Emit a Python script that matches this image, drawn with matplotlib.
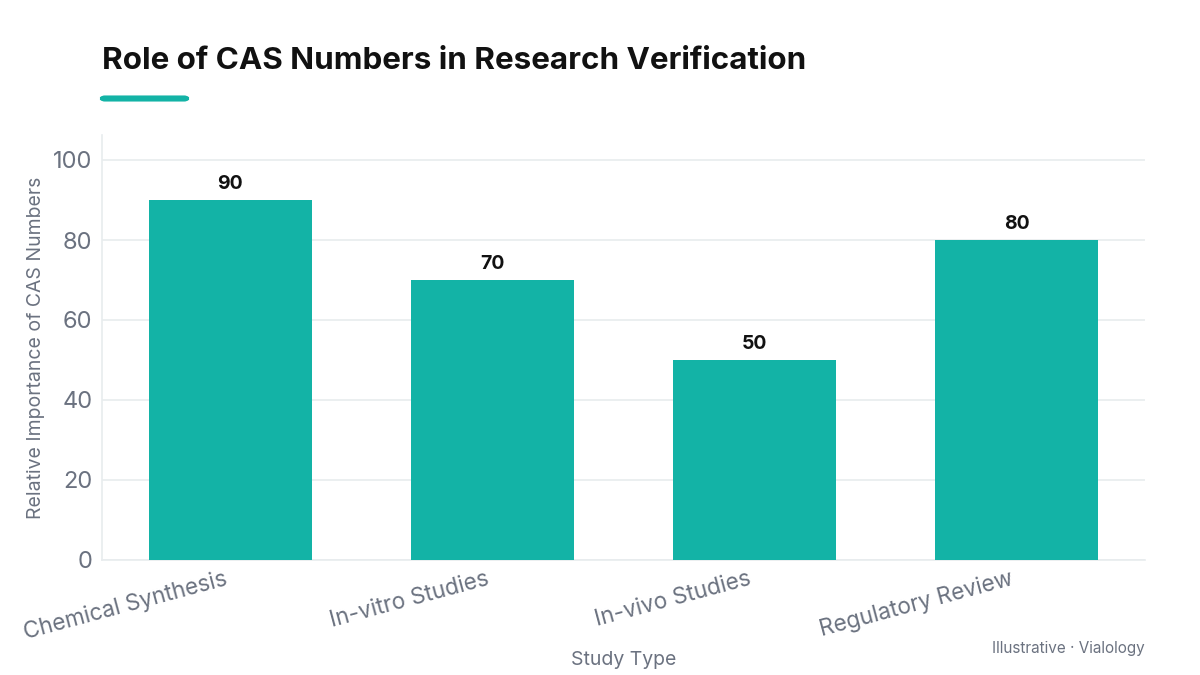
import matplotlib
matplotlib.use("Agg")
import matplotlib.pyplot as plt
import matplotlib.transforms as mtransforms
from matplotlib.patches import FancyBboxPatch

categories = ["Chemical Synthesis", "In-vitro Studies", "In-vivo Studies", "Regulatory Review"]
values = [90, 70, 50, 80]
yticks = [0, 20, 40, 60, 80, 100]

TEAL = "#13B3A6"
GRAY = "#6B7280"
GRID = "#E8ECEE"

plt.rcParams['font.family'] = ['Inter', 'DejaVu Sans']

fig = plt.figure(figsize=(12, 6.75), dpi=100)
W, H = 1200, 675
ax = fig.add_axes([102 / W, 1 - 560 / H, (1145 - 102) / W, (560 - 135) / H])

x = list(range(len(categories)))
bars = ax.bar(x, values, width=0.62, color=TEAL, zorder=3)
for xi, v in zip(x, values):
    ax.annotate(f"{v}", (xi, v), xytext=(0, 5), textcoords="offset points",
                ha="center", va="bottom", fontsize=14, fontweight="bold", color="#111111")

ax.set_xlim(-0.49, 3.49)
ax.set_ylim(0, 106.25)
ax.set_yticks(yticks)
ax.set_yticklabels([str(t) for t in yticks], fontsize=17, color=GRAY)
ax.set_xticks(x)
ax.set_xticklabels([])
lab_tr = ax.get_xaxis_transform() + mtransforms.ScaledTranslation(-7 / 100, -8 / 100, fig.dpi_scale_trans)
for xi, c in zip(x, categories):
    ax.text(xi, 0, c, transform=lab_tr, rotation=15, ha="right", va="top",
            rotation_mode="anchor", fontsize=16.3, color=GRAY, clip_on=False)
ax.tick_params(axis="both", length=0)
ax.tick_params(axis="y", pad=7)
ax.grid(axis="y", color=GRID, linewidth=1.2, zorder=0)
for s in ["top", "right"]:
    ax.spines[s].set_visible(False)
for s in ["left", "bottom"]:
    ax.spines[s].set_color(GRID)
    ax.spines[s].set_linewidth(1.2)

ax.set_ylabel("Relative Importance of CAS Numbers", fontsize=14, color=GRAY, labelpad=6)
fig.text(624 / W, 1 - 660 / H, "Study Type", fontsize=14, color=GRAY, ha="center", va="center")

fig.text(102 / W, 1 - 61 / H, "Role of CAS Numbers in Research Verification",
         fontsize=22.6, fontweight="bold", color="#111111", ha="left", va="center")
accent = FancyBboxPatch((101 / W, 1 - 100.5 / H), 87 / W, 4 / H,
                        boxstyle="round,pad=0,rounding_size=0.003",
                        transform=fig.transFigure, facecolor=TEAL, edgecolor=TEAL,
                        linewidth=1.5, mutation_aspect=W / H)
fig.patches.append(accent)

fig.text(1145 / W, 1 - 649 / H, "Illustrative · Vialology", fontsize=11, color=GRAY,
         ha="right", va="center")

fig.savefig("out.png", dpi=100)
